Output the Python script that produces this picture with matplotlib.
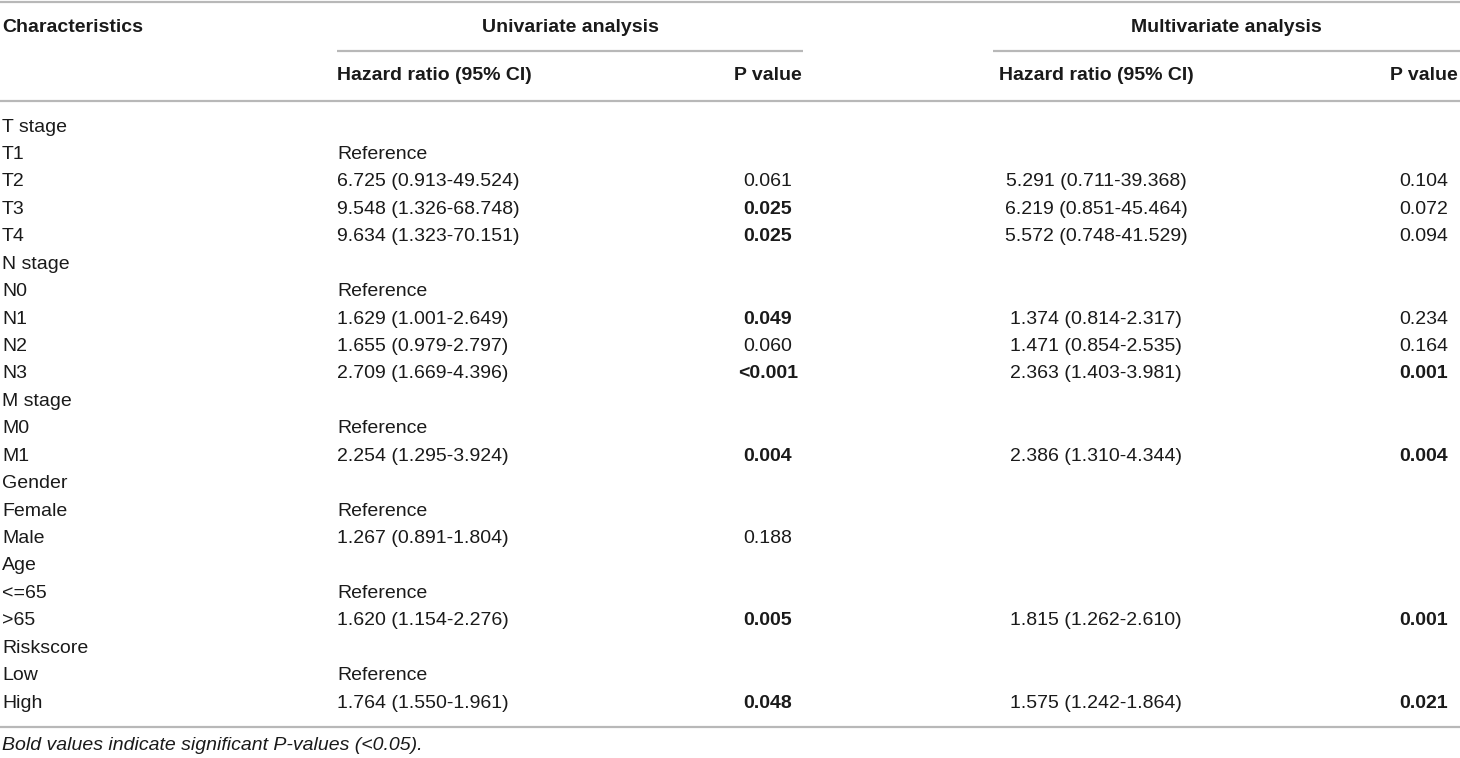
import matplotlib
matplotlib.use("Agg")
import matplotlib.pyplot as plt

plt.rcParams['font.family'] = ['Liberation Sans', 'DejaVu Sans']

# table content
characteristics = ["T stage", "T1", "T2", "T3", "T4",
                   "N stage", "N0", "N1", "N2", "N3",
                   "M stage", "M0", "M1",
                   "Gender", "Female", "Male",
                   "Age", "<=65", ">65",
                   "Riskscore", "Low", "High"]
uni_hr = ["", "Reference", "6.725 (0.913-49.524)", "9.548 (1.326-68.748)", "9.634 (1.323-70.151)",
          "", "Reference", "1.629 (1.001-2.649)", "1.655 (0.979-2.797)", "2.709 (1.669-4.396)",
          "", "Reference", "2.254 (1.295-3.924)",
          "", "Reference", "1.267 (0.891-1.804)",
          "", "Reference", "1.620 (1.154-2.276)",
          "", "Reference", "1.764 (1.550-1.961)"]
uni_p = ["", "", "0.061", "0.025", "0.025",
         "", "", "0.049", "0.060", "<0.001",
         "", "", "0.004",
         "", "", "0.188",
         "", "", "0.005",
         "", "", "0.048"]
multi_hr = ["", "", "5.291 (0.711-39.368)", "6.219 (0.851-45.464)", "5.572 (0.748-41.529)",
            "", "", "1.374 (0.814-2.317)", "1.471 (0.854-2.535)", "2.363 (1.403-3.981)",
            "", "", "2.386 (1.310-4.344)",
            "", "", "",
            "", "", "1.815 (1.262-2.610)",
            "", "", "1.575 (1.242-1.864)"]
multi_p = ["", "", "0.104", "0.072", "0.094",
           "", "", "0.234", "0.164", "0.001",
           "", "", "0.004",
           "", "", "",
           "", "", "0.001",
           "", "", "0.021"]
footnote = "Bold values indicate significant P-values (<0.05)."


def is_significant(p):
    if p == "":
        return False
    if p.startswith("<"):
        return True
    return float(p) < 0.05


W, H = 1460, 758
fig = plt.figure(figsize=(W / 100, H / 100), dpi=100)
ax = fig.add_axes([0, 0, 1, 1])
ax.set_xlim(0, W)
ax.set_ylim(H, 0)
ax.axis("off")

txt = "#1a1a1a"
line_col = "#b8b8b8"
fs = 14

# lignes horizontales
ax.plot([0, W], [1.5, 1.5], color=line_col, lw=1.6, solid_capstyle="butt")
ax.plot([337, 803], [51, 51], color=line_col, lw=1.6, solid_capstyle="butt")
ax.plot([993, W], [51, 51], color=line_col, lw=1.6, solid_capstyle="butt")
ax.plot([0, W], [101, 101], color=line_col, lw=1.6, solid_capstyle="butt")
ax.plot([0, W], [727, 727], color=line_col, lw=1.6, solid_capstyle="butt")

# en-tetes
ax.text(2, 27, "Characteristics", fontsize=fs, fontweight="bold", color=txt,
        ha="left", va="center")
ax.text(570, 27, "Univariate analysis", fontsize=fs, fontweight="bold", color=txt,
        ha="center", va="center")
ax.text(1226, 27, "Multivariate analysis", fontsize=fs, fontweight="bold", color=txt,
        ha="center", va="center")
ax.text(337, 76, "Hazard ratio (95% CI)", fontsize=fs, fontweight="bold", color=txt,
        ha="left", va="center")
ax.text(768, 76, "P value", fontsize=fs, fontweight="bold", color=txt,
        ha="center", va="center")
ax.text(1096, 76, "Hazard ratio (95% CI)", fontsize=fs, fontweight="bold", color=txt,
        ha="center", va="center")
ax.text(1424, 76, "P value", fontsize=fs, fontweight="bold", color=txt,
        ha="center", va="center")

# lignes du tableau
y0, dy = 127, 27.43
for i, lab in enumerate(characteristics):
    y = y0 + i * dy
    ax.text(2, y, lab, fontsize=fs, color=txt, ha="left", va="center")
    ax.text(337, y, uni_hr[i], fontsize=fs, color=txt, ha="left", va="center")
    ax.text(768, y, uni_p[i], fontsize=fs, color=txt, ha="center", va="center",
            fontweight="bold" if is_significant(uni_p[i]) else "normal")
    ax.text(1096, y, multi_hr[i], fontsize=fs, color=txt, ha="center", va="center")
    ax.text(1424, y, multi_p[i], fontsize=fs, color=txt, ha="center", va="center",
            fontweight="bold" if is_significant(multi_p[i]) else "normal")

ax.text(2, 746, footnote, fontsize=14, style="italic", color=txt,
        ha="left", va="center")

fig.savefig("out.png", dpi=100)
plt.close("all")
